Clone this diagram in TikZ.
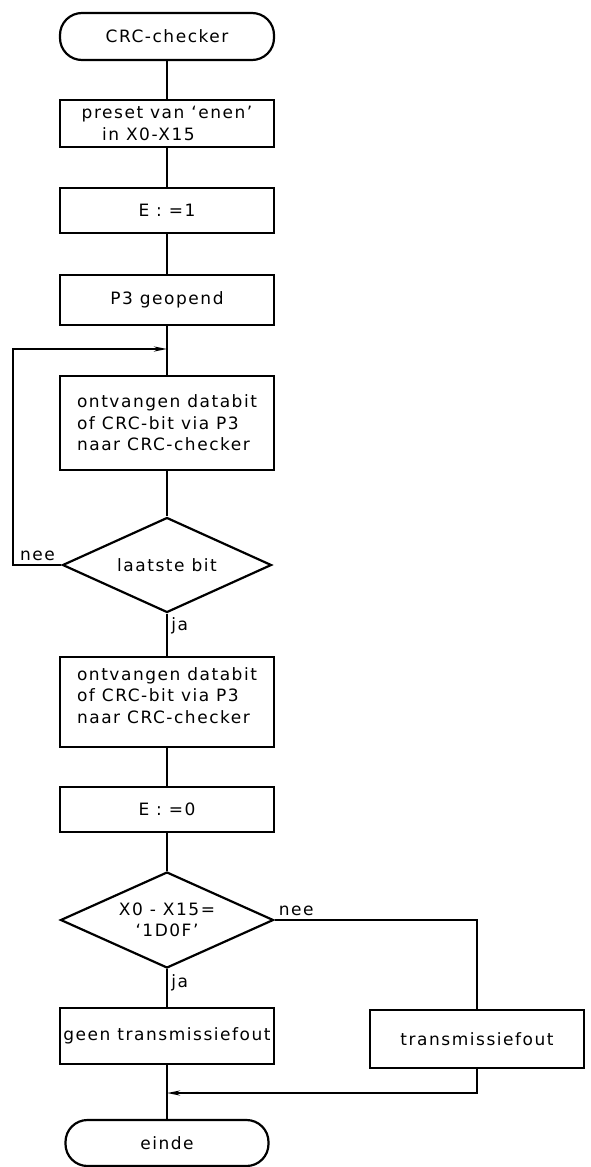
\documentclass[tikz,border=0pt]{standalone}
\usepackage{fontspec}
\setmainfont{DejaVu Sans}[LetterSpace=9]
\usetikzlibrary{shapes.geometric,arrows.meta}
\tikzset{>={Stealth[length=13pt,width=5pt]}}
\tikzset{
  tekst/.style={font=\fontsize{17pt}{21.5pt}\selectfont},
  stap/.style={tekst, draw, line width=2.2pt, minimum width=214pt, inner sep=0pt, align=left},
  eindpunt/.style={stap, rounded corners=22pt},
  keuze/.style={tekst, draw, diamond, aspect=2.2, line width=2.2pt, inner sep=0pt, align=center},
  lijn/.style={line width=2pt}
}
\begin{document}
\begin{tikzpicture}[x=1pt,y=-1pt]
\useasboundingbox (0,0) rectangle (591,1167);
% stappen
\node[eindpunt, minimum height=47pt] (start) at (167,36.5) {CRC-checker};
\node[stap, minimum height=47pt] (preset) at (167,123.5) {preset van `enen'\\\hspace*{1.2em}in X0-X15};
\node[stap, minimum height=45pt] (e1) at (167,210.5) {E : =1};
\node[stap, minimum height=50pt] (p3) at (167,300) {P3 geopend};
\node[stap, minimum height=94pt] (ontv1) at (167,423) {ontvangen databit\\of CRC-bit via P3\\naar CRC-checker};
\node[keuze, minimum width=209pt, minimum height=95pt] (laatste) at (167,565) {laatste bit};
\node[stap, minimum height=90pt] (ontv2) at (167,702) {ontvangen databit\\of CRC-bit via P3\\naar CRC-checker\\[-8pt]};
\node[stap, minimum height=45pt] (e0) at (167,809.5) {E : =0};
\node[keuze, minimum width=213pt, minimum height=96pt] (check) at (167,920) {X0 - X15=\\`1D0F'};
\node[stap, minimum height=56pt] (goed) at (167,1036) {geen transmissiefout};
\node[stap, minimum height=58pt] (fout) at (477,1039) {transmissiefout};
\node[eindpunt, minimum width=203pt, minimum height=46pt] (einde) at (167,1143) {einde};
\coordinate (lus) at (167,349);
\coordinate (samen) at (167,1093);
% verbindingen
\draw[lijn] (start) -- (preset);
\draw[lijn] (preset) -- (e1);
\draw[lijn] (e1) -- (p3);
\draw[lijn] (p3) -- (ontv1);
\draw[lijn] (ontv1) -- (laatste);
\draw[lijn,->] (laatste.west) -- node[tekst,above]{nee} ++(-48,0) |- (lus);
\draw[lijn] (laatste) -- node[tekst,right,pos=.3]{ja} (ontv2);
\draw[lijn] (ontv2) -- (e0);
\draw[lijn] (e0) -- (check);
\draw[lijn] (check) -- node[tekst,right,pos=.35]{ja} (goed);
\draw[lijn] (check.east) node[tekst,above right]{nee} -| (fout);
\draw[lijn] (goed) -- (einde);
\draw[lijn,->] (fout) |- (samen);
\end{tikzpicture}
\end{document}
